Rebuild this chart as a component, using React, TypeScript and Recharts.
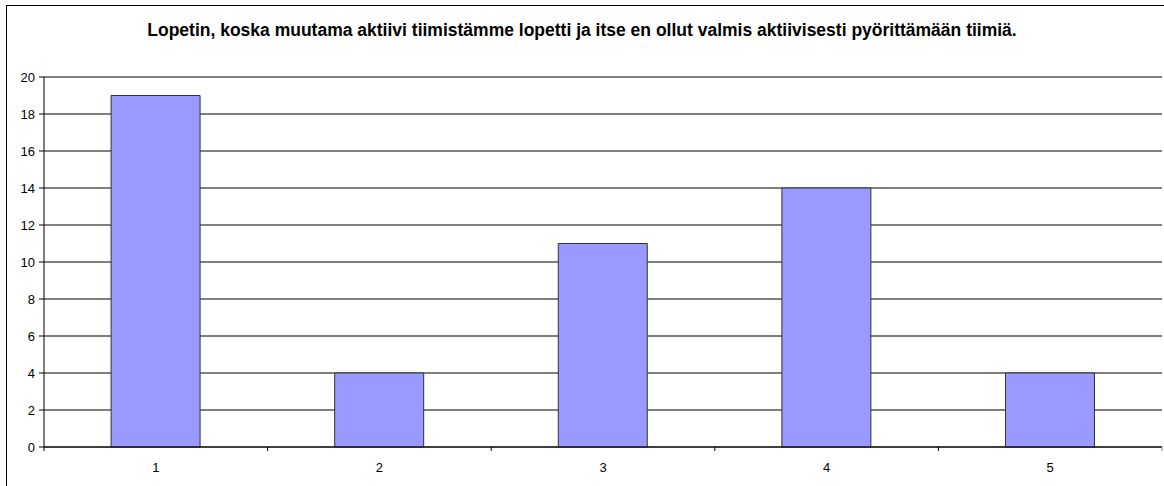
import { Bar, BarChart, CartesianGrid, XAxis, YAxis } from "recharts";

const categories = ["1", "2", "3", "4", "5"];
const counts = [19, 4, 11, 14, 4];
const yTicks = [0, 2, 4, 6, 8, 10, 12, 14, 16, 18, 20];

const data = categories.map((name, i) => ({ name, value: counts[i] }));

const W = 1164;
const H = 486;
const LEFT = 44;
const RIGHT = 2;
const band = (W - LEFT - RIGHT) / categories.length;

// Excel-style category ticks sit between the bars, label in the middle
const CategoryTick = (props: any) => {
  const { x, y, payload, index } = props;
  return (
    <g>
      <line x1={x - band / 2} x2={x - band / 2} y1={y - 8} y2={y - 4} stroke="#000" />
      {index === categories.length - 1 && (
        <line x1={x + band / 2} x2={x + band / 2} y1={y - 8} y2={y - 4} stroke="#888" />
      )}
      <text
        x={x}
        y={y + 17}
        textAnchor="middle"
        style={{ fontSize: "13px", fontFamily: "'Liberation Sans', Arial, sans-serif" }}
        fill="#000"
      >
        {payload.value}
      </text>
    </g>
  );
};

export default function App() {
  return (
    <div
      style={{
        position: "absolute",
        left: 0,
        top: 0,
        width: W,
        height: H,
        overflow: "hidden",
        background: "#fff",
        fontFamily: "'Liberation Sans', Arial, sans-serif",
      }}
    >
      <div
        style={{
          position: "absolute",
          left: 6,
          top: 5,
          width: W + 20,
          height: H + 20,
          border: "1px solid #000",
        }}
      />
      <div
        style={{
          position: "absolute",
          top: 20,
          left: 0,
          width: W,
          textAlign: "center",
          fontSize: 17.5,
          fontWeight: "bold",
          color: "#000",
        }}
      >
        Lopetin, koska muutama aktiivi tiimistämme lopetti ja itse en ollut valmis aktiivisesti pyörittämään tiimiä.
      </div>
      <div style={{ position: "absolute", left: 0, top: 0 }}>
        <BarChart
          width={W}
          height={H}
          data={data}
          margin={{ top: 77, right: RIGHT, bottom: 9, left: 0 }}
          barCategoryGap="30%"
          style={{ fontFamily: "'Liberation Sans', Arial, sans-serif" }}
        >
          <CartesianGrid yAxisId="left" vertical={false} stroke="#000" strokeWidth={1} />
          <XAxis
            dataKey="name"
            height={30}
            axisLine={{ stroke: "#000" }}
            tickLine={false}
            tick={<CategoryTick />}
            interval={0}
          />
          <YAxis
            yAxisId="left"
            width={LEFT}
            domain={[0, 20]}
            ticks={yTicks}
            interval={0}
            axisLine={{ stroke: "#000" }}
            tickLine={{ stroke: "#000" }}
            tickSize={5}
            tickMargin={4}
            fontSize={13}
            tick={{ fill: "#000", fontSize: 13 }}
          />
          <YAxis
            yAxisId="right"
            orientation="right"
            width={0}
            domain={[0, 20]}
            tick={false}
            tickLine={false}
            axisLine={{ stroke: "#999", strokeWidth: 2 }}
          />
          <Bar
            yAxisId="left"
            dataKey="value"
            fill="#9999ff"
            stroke="#333"
            strokeWidth={1}
            isAnimationActive={false}
          />
        </BarChart>
      </div>
    </div>
  );
}
